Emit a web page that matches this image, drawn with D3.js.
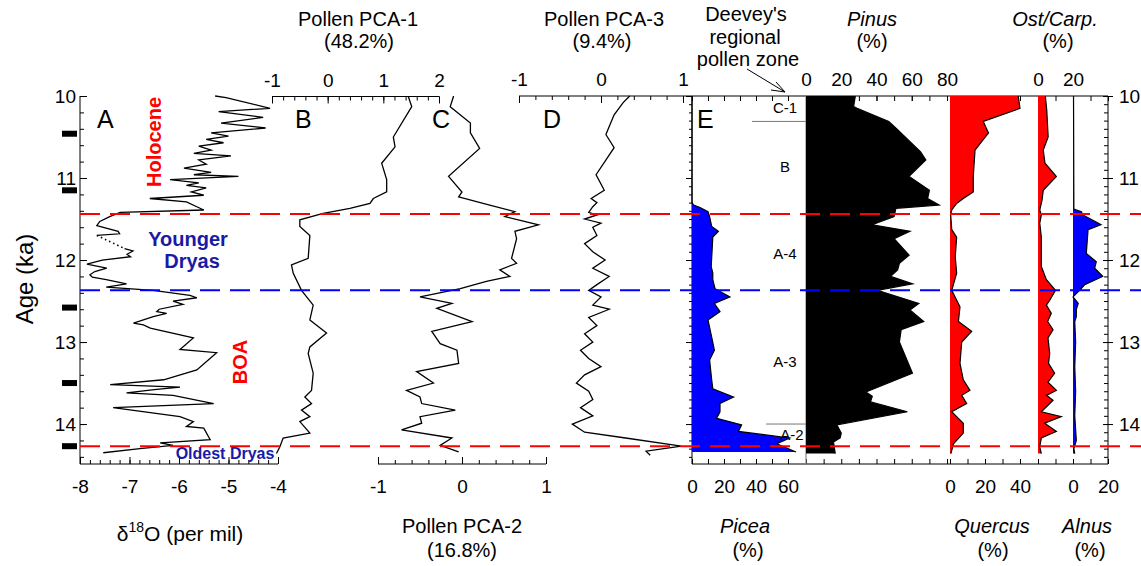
<!DOCTYPE html>
<html><head><meta charset="utf-8">
<script src="https://cdn.jsdelivr.net/npm/d3@7"></script>
<style>body{margin:0;background:#fff}svg{display:block}text{font-family:"Liberation Sans",Arial,sans-serif}</style>
</head><body>
<svg id="c" width="1141" height="566"></svg>
<script>
// ---------------- DATA ----------------
// A: delta18O (per mil) vs age (ka)
const ageA = [10.00,10.02,10.15,10.19,10.26,10.33,10.39,10.45,10.49,10.53,10.57,10.61,10.66,10.70,10.73,10.78,10.83,10.88,10.93,10.96,10.98,11.02,11.06,11.09,11.12,11.17,11.21,11.25,11.29,11.35,11.39,11.42,11.47,11.53,11.58,11.65,11.68,11.70,
  11.86,11.89,11.93,11.96,12.00,12.05,12.10,12.14,12.18,12.21,12.24,12.29,12.33,12.37,12.43,12.46,12.50,12.54,12.60,12.63,12.65,12.69,12.77,12.79,12.83,12.95,13.09,13.13,13.34,13.46,13.52,13.55,13.58,13.62,13.65,13.75,13.80,13.91,13.97,14.03,14.05,14.19,14.23,14.26,14.30,14.35];
const d18O = [-5.27,-5.05,-4.16,-5.20,-4.30,-5.15,-4.25,-5.35,-5.00,-5.45,-5.10,-5.60,-5.35,-5.70,-4.95,-5.60,-5.45,-5.90,-5.35,-5.70,-4.80,-6.18,-5.60,-5.85,-5.45,-5.75,-5.50,-6.59,-5.85,-5.64,-5.50,-7.19,-7.40,-7.60,-7.66,-7.23,-7.20,-7.66,
  -7.10,-6.93,-7.05,-6.98,-7.55,-7.86,-7.46,-7.70,-7.80,-7.75,-7.47,-7.06,-7.47,-6.52,-5.78,-5.64,-6.12,-5.92,-6.40,-6.45,-6.25,-6.52,-6.92,-6.72,-6.58,-5.71,-5.98,-5.24,-5.64,-6.31,-7.39,-5.98,-6.50,-7.06,-6.12,-5.30,-7.33,-5.98,-5.71,-5.85,-5.50,-5.37,-6.38,-6.12,-6.79,-7.53];
const gapA = [11.70, 11.86];           // dotted bridge in record A
const dateAges = [10.46, 11.15, 12.58, 13.50, 14.27];   // black date markers

// B: Pollen PCA-1
const ageB = [10.01,10.13,10.50,10.62,10.82,11.02,11.17,11.25,11.31,11.37,11.43,11.51,11.59,11.70,11.98,12.06,12.16,12.37,12.55,12.73,12.89,13.06,13.14,13.38,13.59,13.67,13.75,13.83,13.91,13.97,14.11,14.17,14.28,14.36];
const pca1 = [1.45,1.51,1.18,1.21,0.97,1.06,1.06,0.82,0.76,0.40,-0.08,-0.50,-0.50,-0.32,-0.35,-0.65,-0.62,-0.47,-0.26,-0.32,-0.02,-0.32,-0.35,-0.26,-0.29,-0.41,-0.29,-0.47,-0.32,-0.50,-0.32,-0.80,-0.86,-0.92];

// C: Pollen PCA-2
const ageC = [10.00,10.13,10.33,10.45,10.64,10.98,11.17,11.23,11.33,11.41,11.47,11.57,11.65,11.74,11.98,12.04,12.12,12.20,12.26,12.35,12.45,12.53,12.59,12.75,12.87,13.02,13.10,13.26,13.36,13.50,13.59,13.67,13.75,13.83,13.91,13.99,14.07,14.17,14.26,14.34];
const pca2 = [-0.10,-0.14,0.10,0.10,0.21,-0.16,0.00,-0.04,0.33,0.63,0.51,0.91,0.63,0.65,0.59,0.65,0.45,0.57,0.29,-0.02,-0.50,-0.12,-0.30,0.12,-0.36,-0.26,-0.06,-0.04,-0.54,-0.34,-0.66,-0.50,-0.48,-0.08,-0.50,-0.48,-0.72,-0.12,-0.26,-0.04];

// D: Pollen PCA-3
const ageD = [10.00,10.08,10.23,10.47,10.63,10.96,11.15,11.25,11.30,11.35,11.42,11.45,11.50,11.55,11.60,11.70,11.80,11.90,12.00,12.10,12.20,12.30,12.37,12.45,12.55,12.60,12.70,12.80,12.90,13.00,13.10,13.20,13.30,13.40,13.50,13.60,13.70,13.80,13.90,14.00,14.10,14.17,14.27,14.33,14.38];
const pca3 = [0.35,0.27,0.16,0.06,0.16,-0.06,0.04,-0.12,-0.05,-0.10,-0.15,-0.05,-0.20,0.00,-0.10,-0.05,-0.20,-0.10,0.05,-0.10,0.10,-0.05,-0.15,0.00,-0.10,0.10,-0.15,-0.05,-0.20,-0.10,-0.25,-0.15,0.00,-0.20,-0.30,-0.15,-0.10,-0.25,-0.10,-0.35,-0.20,0.30,0.98,0.55,0.60];

// E: pollen percentages
const agePicea = [10.00,11.30,11.33,11.36,11.41,11.47,11.59,11.65,11.72,12.08,12.16,12.24,12.35,12.45,12.53,12.63,12.73,12.94,13.10,13.22,13.46,13.57,13.67,13.75,13.85,13.93,14.01,14.09,14.17,14.24,14.34];
const picea = [0,0,1,5,10,11,12.3,16.5,13,12,13,13,14.4,23.7,14,17.5,10,12.3,14,11,12.3,13,26,17.5,17.5,15.4,31,29,61,53,65];

const agePinus = [10.00,10.13,10.15,10.31,10.41,10.68,10.78,10.98,11.15,11.25,11.33,11.37,11.47,11.57,11.65,11.74,11.94,12.04,12.12,12.20,12.29,12.37,12.53,12.61,12.75,12.85,13.00,13.38,13.61,13.66,13.73,13.85,14.01,14.11,14.17,14.22,14.36];
const pinus = [28,27,29,47,52,65,68,58.5,70,69,75.6,51,50,37.6,59,50,58.5,53,52,48,60.5,40.5,64,59,66.8,54,53,60.4,34,37.6,36.6,57.5,17.5,20,19.4,15.6,16.6];

const ageQuercus = [10.00,10.15,10.31,10.45,10.66,10.98,11.17,11.25,11.31,11.39,11.45,11.63,11.72,11.96,12.16,12.37,12.57,12.75,12.87,13.00,13.26,13.46,13.59,13.65,13.75,13.85,13.91,13.99,14.11,14.24,14.32,14.36];
const quercus = [39,40,19,22,14.3,13.3,13.3,7.6,3.8,1,0.4,1,3.8,3,3.8,1,5.7,4.8,12.4,6.7,5.7,7.6,11.4,6.7,9.5,1,3.8,7.6,7.6,2,1,0.5];

const ageOst = [10.00,10.17,10.50,10.66,10.82,10.98,11.15,11.27,11.39,11.45,11.55,11.72,12.08,12.24,12.37,12.49,12.55,12.65,12.75,12.85,12.95,13.14,13.26,13.38,13.49,13.59,13.65,13.71,13.85,13.91,13.99,14.09,14.17,14.28,14.36];
const ostCarp = [4.2,5,5.8,3,4,10.5,3,2.3,1,1.9,1,1.9,1.9,4.8,10,6.7,4.8,7.6,5.5,8.6,5.7,6.7,6.0,9.5,5.7,10.5,4.8,8.6,1.9,13.3,3.8,10.5,1.9,1,1.9];

const ageAlnus = [10.00,11.38,11.41,11.45,11.57,11.63,11.92,12.02,12.10,12.20,12.30,12.37,12.45,12.53,12.60,12.69,12.75,13.00,13.30,13.60,13.90,14.20,14.30,14.36];
const alnus = [0.3,0.5,4.8,5.7,16,8.6,7.6,13.3,12.4,17,6.7,3.8,0,3,1.9,1.9,1,1.5,1,1.5,1,1.9,0.5,1];

// event boundaries (ka)
const redLines = [11.44, 14.27];
const blueLines = [12.37];

// Deevey zones: labels and boundaries
const zoneLabels = ["C-1","B","A-4","A-3","A-2"];
const zoneLabelAges = [10.13, 10.85, 11.92, 13.23, 14.12];
const zoneBounds = [10.31, 14.00];

// tick labels
const ticksAge = [10,11,12,13,14];
const ticksA = [-8,-7,-6,-5,-4];
const ticksB = [-1,0,1,2];
const ticksC = [-1,0,1];
const ticksD = [-1,0,1];
const ticksPicea = [0,20,40,60];
const ticksPinus = [0,20,40,60,80];
const ticksQuercus = [0,20,40];
const ticksOst = [0,20];
const ticksAlnus = [0,20];

// ---------------- DRAW ----------------
const svg = d3.select("#c");
const FONT = '"Liberation Sans",Arial,sans-serif';
const y = d3.scaleLinear().domain([10, 14.475]).range([96, 463]);
const yTop = 96, yBot = 464;

const xA = d3.scaleLinear().domain([-8,-4]).range([80,278]);
const xB = d3.scaleLinear().domain([-1,2]).range([272,439]);
const xC = d3.scaleLinear().domain([-1,1]).range([378,546]);
const xD = d3.scaleLinear().domain([-1,1]).range([519,683]);
const xPi = d3.scaleLinear().domain([0,60]).range([692,788]);
const xPn = d3.scaleLinear().domain([0,80]).range([806,947]);
const xQu = d3.scaleLinear().domain([0,40]).range([950,1020]);
const xOs = d3.scaleLinear().domain([0,20]).range([1038,1073]);
const xAl = d3.scaleLinear().domain([0,20]).range([1073,1108]);

function rng(a,b,s){const r=[];for(let v=a;v<=b+1e-9;v+=s)r.push(+v.toFixed(3));return r;}

function axis(orient, scale, pos, vals, size, labelled, pad, fs) {
  const gen = {top:d3.axisTop,bottom:d3.axisBottom,left:d3.axisLeft,right:d3.axisRight}[orient](scale)
    .tickValues(vals).tickSizeInner(size).tickSizeOuter(0).tickPadding(pad||4)
    .tickFormat(labelled ? (d=>String(d)) : (()=>""));
  const g = svg.append("g");
  if (orient==="top"||orient==="bottom") g.attr("transform",`translate(0,${pos})`);
  else g.attr("transform",`translate(${pos},0)`);
  g.call(gen);
  g.select(".domain").remove();
  g.selectAll("line").attr("stroke","#000").attr("stroke-width",1);
  g.selectAll("text").attr("font-size",fs||19).attr("font-family",FONT).attr("fill","#000");
  return g;
}
function hline(x1,x2,yy,col,w){svg.append("line").attr("x1",x1).attr("x2",x2).attr("y1",yy).attr("y2",yy).attr("stroke",col||"#000").attr("stroke-width",w||1);}
function vline(xx,y1,y2,col,w){svg.append("line").attr("x1",xx).attr("x2",xx).attr("y1",y1).attr("y2",y2).attr("stroke",col||"#000").attr("stroke-width",w||1);}
function txt(x,yy,s,o){const t=svg.append("text").attr("x",x).attr("y",yy).text(s)
  .attr("font-size",o&&o.fs||20).attr("text-anchor",o&&o.anchor||"middle").attr("fill",o&&o.fill||"#000")
  .attr("font-weight",o&&o.bold?"bold":"normal").attr("font-style",o&&o.italic?"italic":"normal");
  if(o&&o.rot) t.attr("transform",`rotate(-90,${x},${yy})`); return t;}

// ---- Panel A ----
vline(80,yTop,yBot); hline(80,278,yBot);
axis("left", y, 80, rng(10,14.4,0.2), -4, false);
axis("left", y, 80, ticksAge, -7, true, 4, 19);
axis("bottom", xA, yBot, rng(-8,-4,0.2), -4, false);
axis("bottom", xA, yBot, ticksA, -7, true, 16, 19);
svg.selectAll(null).data(dateAges).enter().append("rect")
  .attr("x",62).attr("width",15).attr("y",d=>y(d)-3).attr("height",6).attr("fill","#000");

const ptsA = d3.zip(ageA,d18O);
const lineA = d3.line().x(d=>xA(d[1])).y(d=>y(d[0]));
svg.append("path").attr("d",lineA(ptsA.filter(d=>d[0]<=gapA[0]))).attr("fill","none").attr("stroke","#000").attr("stroke-width",1.3);
svg.append("path").attr("d",lineA(ptsA.filter(d=>d[0]>=gapA[1]))).attr("fill","none").attr("stroke","#000").attr("stroke-width",1.3);
svg.append("path").attr("d",lineA(ptsA.filter(d=>d[0]===gapA[0]||d[0]===gapA[1]))).attr("fill","none").attr("stroke","#000").attr("stroke-width",1.6).attr("stroke-dasharray","1.5,3");

// ---- Panel B ----
hline(272,439,96.5);
axis("top", xB, 96.5, rng(-1,2,0.2), -4, false);
axis("top", xB, 96.5, ticksB, -7, true, 10, 19);
svg.append("path").attr("d",d3.line().x(d=>xB(d[1])).y(d=>y(d[0]))(d3.zip(ageB,pca1))).attr("fill","none").attr("stroke","#000").attr("stroke-width",1.3);

// ---- Panel C ----
hline(378,546,yBot);
axis("bottom", xC, yBot, rng(-1,1,0.2), -4, false);
axis("bottom", xC, yBot, ticksC, -7, true, 16, 19);
svg.append("path").attr("d",d3.line().x(d=>xC(d[1])).y(d=>y(d[0]))(d3.zip(ageC,pca2))).attr("fill","none").attr("stroke","#000").attr("stroke-width",1.3);

// ---- Panel D ----
hline(519,1108,yTop);
axis("top", xD, yTop, rng(-1,1,0.2), -4, false);
axis("top", xD, yTop, ticksD, -7, true, 10, 19);
svg.append("path").attr("d",d3.line().x(d=>xD(d[1])).y(d=>y(d[0]))(d3.zip(ageD,pca3))).attr("fill","none").attr("stroke","#000").attr("stroke-width",1.3);

// ---- Panel E frame ----
vline(692,yTop,yBot); vline(1108,yTop,yBot); hline(692,1108,yBot);
axis("left", y, 692, rng(10,14.4,0.1), 3, false);
axis("left", y, 692, ticksAge, 6, false);
axis("right", y, 1108, rng(10,14.4,0.1), -4, false);
axis("right", y, 1108, ticksAge, 5, true, 6, 19);
axis("right", y, 1108, ticksAge, -5, false);
// bottom ticks
axis("bottom", xPi, yBot, rng(0,60,10), -5, false);
axis("bottom", xPi, yBot, ticksPicea, -5, true, 16, 19);
axis("bottom", xPn, yBot, rng(0,80,10), -5, false);
axis("bottom", xQu, yBot, rng(0,40,10), -5, false);
axis("bottom", xQu, yBot, ticksQuercus, -5, true, 16, 19);
axis("bottom", xOs, yBot, rng(0,20,10), -5, false);
axis("bottom", xAl, yBot, rng(0,20,10), -5, false);
axis("bottom", xAl, yBot, ticksAlnus, -5, true, 16, 19);
// top ticks
axis("top", xPi, yTop, rng(0,60,10), -5, false);
axis("top", xPn, yTop, rng(0,80,10), -5, false);
axis("top", xPn, yTop, ticksPinus, -5, true, 10, 19);
axis("top", xQu, yTop, rng(0,40,10), -5, false);
axis("top", xOs, yTop, rng(0,20,10), -5, false);
axis("top", xOs, yTop, ticksOst, -5, true, 10, 19);
axis("top", xAl, yTop, rng(0,20,10), -5, false);

// zone column
vline(806,yTop,yBot,"#888",1.2);
zoneBounds.forEach((b,i)=>hline(i===0?752:766,806,y(b),"#777",1));

function fillCurve(xs, ages, vals, fill){
  const pts = d3.zip(ages, vals);
  svg.append("path").attr("d", d3.area().y(d=>y(d[0])).x0(xs(0)).x1(d=>xs(d[1]))(pts))
    .attr("fill",fill).attr("stroke","none");
  svg.append("path").attr("d", d3.line().y(d=>y(d[0])).x(d=>xs(d[1]))(pts))
    .attr("fill","none").attr("stroke","#000").attr("stroke-width",1.2);
}
fillCurve(xPi, agePicea, picea, "#0000ff");
fillCurve(xPn, agePinus, pinus, "#000000");
fillCurve(xQu, ageQuercus, quercus, "#ff0000");
fillCurve(xOs, ageOst, ostCarp, "#ff0000");
fillCurve(xAl, ageAlnus, alnus, "#0000ff");

zoneLabels.forEach((z,i)=>txt(i===4?792:785, y(zoneLabelAges[i])+6, z, {fs:15}));

// dashed event lines
redLines.forEach(a=>svg.append("line").attr("x1",80).attr("x2",1141).attr("y1",y(a)).attr("y2",y(a))
  .attr("stroke","#ff0000").attr("stroke-width",2).attr("stroke-dasharray","20,10"));
blueLines.forEach(a=>svg.append("line").attr("x1",80).attr("x2",1141).attr("y1",y(a)).attr("y2",y(a))
  .attr("stroke","#0000ff").attr("stroke-width",2).attr("stroke-dasharray","20,10"));

// ---- Text ----
["A","B","C","D","E"].forEach((l,i)=>txt([97,295,432,543,697][i],128,l,{fs:25,anchor:"start"}));
txt(161,142,"Holocene",{fs:20,bold:true,fill:"#ff0000",rot:true});
txt(247,362,"BOA",{fs:20,bold:true,fill:"#ff0000",rot:true});
txt(188,246,"Younger",{fs:20,bold:true,fill:"#1a1aa6"});
txt(192,268,"Dryas",{fs:20,bold:true,fill:"#1a1aa6"});
txt(225,459,"Oldest Dryas",{fs:16,bold:true,fill:"#1a1aa6"});
txt(33,279,"Age (ka)",{fs:24,rot:true});

txt(358,26,"Pollen PCA-1",{fs:20}); txt(359,48,"(48.2%)",{fs:20});
txt(604,26,"Pollen PCA-3",{fs:20}); txt(602,48,"(9.4%)",{fs:20});
txt(746,21,"Deevey's",{fs:20}); txt(745,44,"regional",{fs:20}); txt(748,66,"pollen zone",{fs:20});
txt(872,26,"Pinus",{fs:20,italic:true}); txt(872,48,"(%)",{fs:20});
txt(1055,26,"Ost/Carp.",{fs:20,italic:true}); txt(1058,48,"(%)",{fs:20});
// arrow
svg.append("line").attr("x1",747).attr("y1",69).attr("x2",785).attr("y2",92).attr("stroke","#000").attr("stroke-width",1);
svg.append("path").attr("d","M771,90 L785,92 L776,82").attr("fill","none").attr("stroke","#000").attr("stroke-width",1);

const dl = svg.append("text").attr("x",180).attr("y",541).attr("text-anchor","middle").attr("font-size",21);
dl.append("tspan").text("δ");
dl.append("tspan").text("18").attr("font-size",14).attr("dy",-9);
dl.append("tspan").text("O (per mil)").attr("dy",9);
txt(462,533,"Pollen PCA-2",{fs:20}); txt(462,557,"(16.8%)",{fs:20});
txt(745,533,"Picea",{fs:20,italic:true}); txt(748,557,"(%)",{fs:20});
txt(992,533,"Quercus",{fs:20,italic:true}); txt(993,557,"(%)",{fs:20});
txt(1087,533,"Alnus",{fs:20,italic:true}); txt(1090,557,"(%)",{fs:20});
</script>
</body></html>
